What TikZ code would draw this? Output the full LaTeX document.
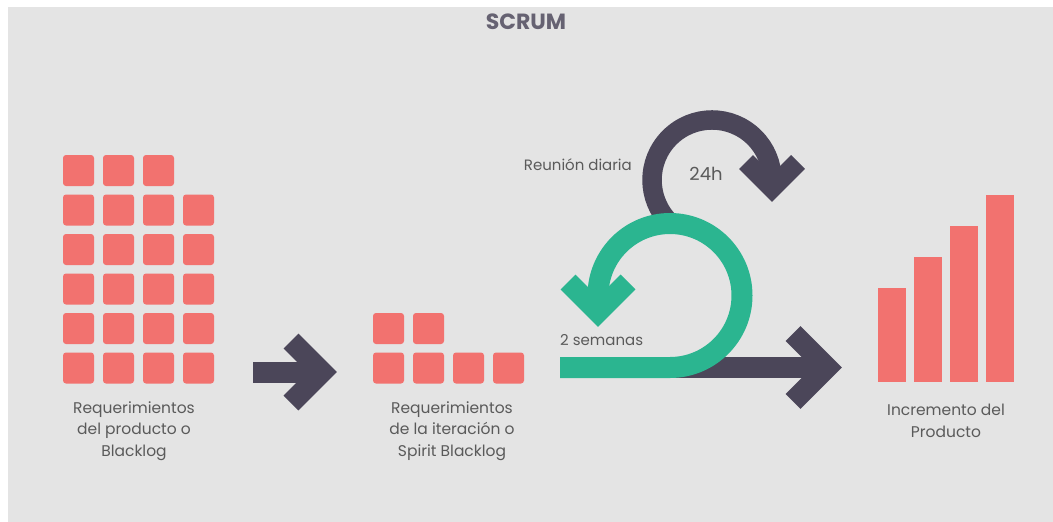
\documentclass[tikz,border=0pt]{standalone}
\usepackage{fontspec}
\setmainfont{Poppins}
\usetikzlibrary{calc}
\definecolor{panel}{HTML}{E4E4E4}
\definecolor{brickred}{HTML}{F2726F}
\definecolor{inkdark}{HTML}{4B4659}
\definecolor{sprintgreen}{HTML}{2BB590}
\definecolor{labelgray}{HTML}{5A5A5A}
\begin{document}
\begin{tikzpicture}[x=1pt,y=-1pt,
  brick/.style={fill=brickred, rounded corners=3pt},
  bar/.style={fill=brickred},
  band/.style={line width=21pt, line join=miter, line cap=butt},
  thinband/.style={line width=19.5pt, line join=miter, line cap=butt},
  caption/.style={text=labelgray, font=\fontsize{15.5}{21.5}\selectfont, align=center, inner sep=0pt},
  note/.style={text=labelgray, font=\fontsize{15}{17}\selectfont, inner sep=0pt},
]
\useasboundingbox (0,0) rectangle (1053,522);
\fill[panel] (8,7) rectangle (1053,522);

% title
\node[text=inkdark!85, font=\fontsize{22}{24}\bfseries\selectfont, inner sep=0pt] (title) at (526,22) {SCRUM};

% product backlog grid
\foreach \c in {0,1,2}
  \fill[brick] ({63+40*\c},155) rectangle ++(31,31);
\foreach \r in {1,...,5}
  \foreach \c in {0,...,3}
    \fill[brick] ({63+40*\c},{155+39.5*\r}) rectangle ++(31,31);

% sprint backlog grid
\foreach \c in {0,1}
  \fill[brick] ({373+40*\c},313) rectangle ++(31,31);
\foreach \c in {0,...,3}
  \fill[brick] ({373+40*\c},352.5) rectangle ++(31,31);

% product increment bars
\fill[bar] (878,288) rectangle (906,382);
\fill[bar] (914,257) rectangle (942,382);
\fill[bar] (950,226) rectangle (978,382);
\fill[bar] (986,195) rectangle (1014,382);

% labels
\node[caption] (reqprod) at (134,431) {Requerimientos\\del producto o\\Blacklog};
\node[caption] (reqiter) at (452,431) {Requerimientos\\de la iteración o\\Spirit Blacklog};
\node[caption] (incr) at (946,421) {Incremento del\\Producto};
\node[note, anchor=east] (daily) at (632,165) {Reunión diaria};
\node[caption, font=\fontsize{18}{20}\selectfont] (hours) at (706,174) {24h};
\node[note, anchor=west] (sprint) at (560,340) {2 semanas};

% arrow between backlogs
\coordinate (a1s) at (253,372);
\coordinate (a1t) at (322,372);
\draw[band, inkdark] (a1s) -- (a1t);
\draw[band, inkdark] ($(a1t)+(-31,-31)$) -- (a1t) -- ($(a1t)+(-31,31)$);

% daily cycle
\coordinate (dstart) at (669.6,222.4);
\coordinate (dtip) at (772,188);
\draw[thinband, inkdark] (dstart) arc[start angle=135, end angle=360, radius=60] -- (dtip);
\draw[thinband, inkdark] ($(dtip)+(-26,-26)$) -- (dtip) -- ($(dtip)+(26,-26)$);

% delivery arrow
\coordinate (ms) at (670,367.5);
\coordinate (mt) at (827,367.5);
\draw[band, inkdark] (ms) -- (mt);
\draw[band, inkdark] ($(mt)+(-34,-34)$) -- (mt) -- ($(mt)+(-34,34)$);

% sprint cycle
\coordinate (gs) at (560,367.5);
\coordinate (gb) at (670,367.5);
\coordinate (gtip) at (598,312);
\draw[band, sprintgreen] (gs) -- (gb) arc[start angle=90, end angle=-180, radius=72] -- (gtip);
\draw[band, sprintgreen] ($(gtip)+(-30,-30)$) -- (gtip) -- ($(gtip)+(30,-30)$);
\end{tikzpicture}
\end{document}
